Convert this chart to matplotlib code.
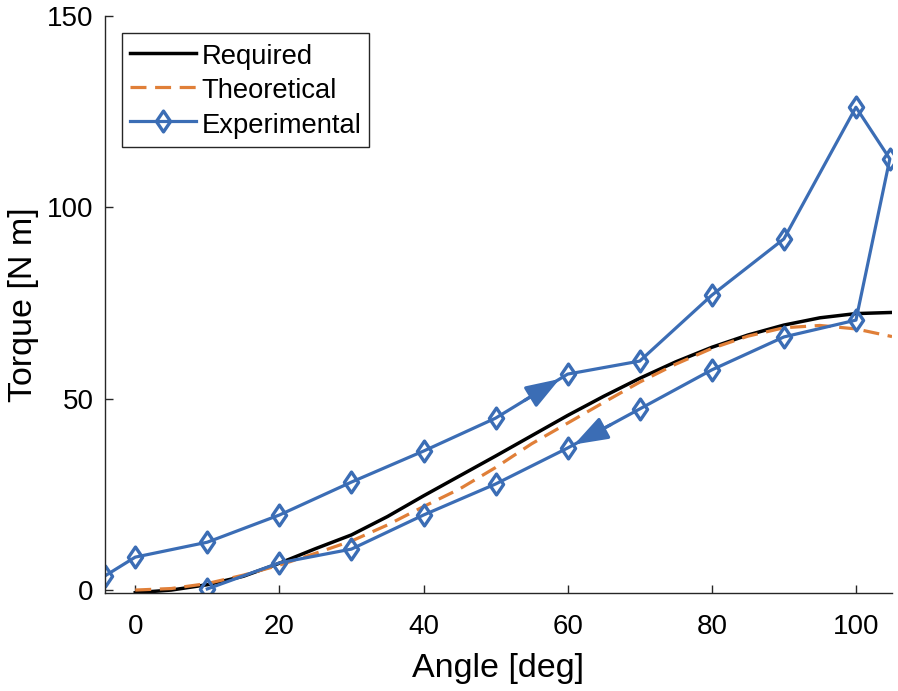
import numpy as np
import matplotlib
matplotlib.use("Agg")
import matplotlib.pyplot as plt
from matplotlib.path import Path

# Datos
ang_modelo = [0, 5, 10, 15, 20, 25, 30, 35, 40, 45, 50, 55, 60, 65, 70, 75, 80, 85, 90, 95, 100, 105]
torque_requerido = [-0.7, 0.0, 1.4, 3.6, 7.0, 10.8, 14.4, 19.2, 24.6, 29.8, 35.0, 40.3, 45.6, 50.6,
                    55.3, 59.6, 63.4, 66.6, 69.2, 71.1, 72.2, 72.5]
torque_teorico = [0.0, 0.4, 1.7, 3.9, 6.5, 9.6, 12.8, 17.0, 21.8, 26.4, 32.0, 38.2, 43.6, 49.0,
                  54.3, 59.0, 63.1, 66.3, 68.5, 69.1, 68.2, 66.2]

ang_exp = [-4.2, 0, 10, 20, 30, 40, 50, 60, 70, 80, 90, 100, 104.7,
           100, 90, 80, 70, 60, 50, 40, 30, 20, 10]
torque_exp = [3.7, 8.6, 12.5, 19.6, 28.2, 36.3, 44.9, 56.4, 59.8, 77.0, 91.7, 126.1, 112.6,
              70.5, 66.1, 57.5, 47.3, 37.1, 27.7, 19.6, 10.7, 7.1, 0.3]

azul = '#3b6db5'
naranja = '#e07f38'

plt.rcParams['font.family'] = ['Liberation Sans', 'DejaVu Sans']

# Rombo estilo MATLAB (un poco mas ancho que 'd')
rombo = Path([(0, 1), (0.68, 0), (0, -1), (-0.68, 0), (0, 1)],
             [Path.MOVETO, Path.LINETO, Path.LINETO, Path.LINETO, Path.CLOSEPOLY])

fig = plt.figure(figsize=(8.98, 6.91), dpi=100)
ax = fig.add_axes([0.1169, 0.1422, 0.8764, 0.8351])

ax.plot(ang_modelo, torque_requerido, color='black', lw=2.5, label='Required')
ax.plot(ang_modelo, torque_teorico, color=naranja, lw=2.3, dashes=(5, 2.7), label='Theoretical')
ax.plot(ang_exp, torque_exp, color=azul, lw=2.3, marker=rombo, ms=15, mew=2.4,
        mfc='none', label='Experimental')

# Flechas que indican el sentido del ciclo
def flecha(i, j, t0, t1):
    x0 = ang_exp[i] + t0 * (ang_exp[j] - ang_exp[i])
    y0 = torque_exp[i] + t0 * (torque_exp[j] - torque_exp[i])
    x1 = ang_exp[i] + t1 * (ang_exp[j] - ang_exp[i])
    y1 = torque_exp[i] + t1 * (torque_exp[j] - torque_exp[i])
    ax.annotate('', xy=(x1, y1), xytext=(x0, y0),
                arrowprops=dict(arrowstyle='-|>,head_length=0.4,head_width=0.14',
                                mutation_scale=52, color=azul, lw=2.3,
                                shrinkA=0, shrinkB=0))

flecha(6, 7, 0.4, 0.89)
flecha(16, 17, 0.4, 0.91)

ax.set_xlim(ang_exp[0], 105)
ax.set_ylim(-0.7, 150)
ax.set_xticks([0, 20, 40, 60, 80, 100])
ax.set_yticks([0, 50, 100, 150])

for s in ['top', 'right']:
    ax.spines[s].set_visible(False)
for s in ['left', 'bottom']:
    ax.spines[s].set_color('#262626')
    ax.spines[s].set_linewidth(1.0)

ax.tick_params(direction='in', length=6, width=1.0, color='#262626', labelsize=20)
ax.tick_params(axis='x', pad=15)
ax.tick_params(axis='y', pad=8)

ax.set_xlabel('Angle [deg]', fontsize=24.5, labelpad=10)
ax.set_ylabel('Torque [N m]', fontsize=24.5, labelpad=6)

leg = ax.legend(loc='upper left', bbox_to_anchor=(0.0216, 0.970), fontsize=19.7,
                frameon=True, fancybox=False, framealpha=1, edgecolor='#262626',
                handlelength=2.4, handletextpad=0.2, labelspacing=0.2,
                handleheight=1.15, borderpad=0.3, borderaxespad=0)
leg.get_frame().set_linewidth(1.0)

fig.savefig('out.png', dpi=100)
